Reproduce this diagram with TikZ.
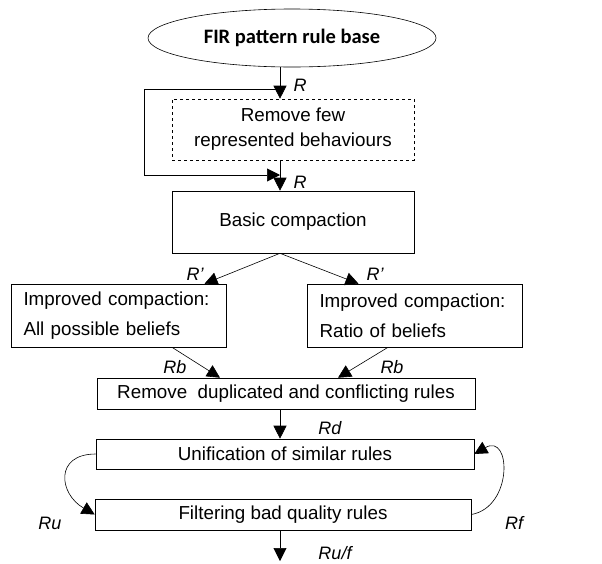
\documentclass[tikz,border=0pt]{standalone}
\usepackage{fontspec}
\setmainfont{Liberation Sans}
\newfontfamily\titlefont{Carlito}
\usetikzlibrary{arrows.meta,shapes.geometric}

\begin{document}
\begin{tikzpicture}[x=1pt, y=-1pt, >={Triangle[length=13pt,width=13pt]}, line width=0.6pt,
  every node/.style={font=\fontsize{18.8}{22}\selectfont},
  stepbox/.style={draw, rectangle, inner sep=0pt, align=center},
  twoline/.style={stepbox, align=left, text width=190pt, font=\fontsize{18.8}{30}\selectfont},
  lbl/.style={font=\fontsize{18}{20}\selectfont\itshape, inner sep=0pt}]
  \useasboundingbox (0,0) rectangle (602,563);
  \coordinate (axis) at (280,0);

  % boxes
  \node[draw, ellipse, inner sep=0pt, minimum width=288pt, minimum height=58pt,
        font=\titlefont\bfseries\fontsize{20.5}{24}\selectfont] (rulebase) at (292,38) {FIR pattern rule base};
  \node[stepbox, dashed, minimum width=242pt, minimum height=61pt, font=\fontsize{18.8}{25}\selectfont]
        (fewbeh) at (293,129.5) {Remove few\\represented behaviours};
  \node[stepbox, minimum width=242pt, minimum height=62pt] (basic) at (293,222) {Basic compaction};
  \node[twoline, minimum width=215pt, minimum height=63pt] (allbel) at (118.5,315.5)
        {Improved compaction:\\All possible beliefs};
  \node[twoline, minimum width=215pt, minimum height=63pt] (ratiobel) at (414.5,315.5)
        {Improved compaction:\\Ratio of beliefs};
  \node[stepbox, minimum width=378pt, minimum height=31pt] (dupl) at (286,393.5)
        {Remove\ \ duplicated and conflicting rules};
  \node[stepbox, minimum width=378pt, minimum height=30pt] (unif) at (285,454) {Unification of similar rules};
  \node[stepbox, minimum width=376pt, minimum height=31pt] (filt) at (283,514.5) {Filtering bad quality rules};

  % connectors
  \coordinate (split) at (280,89);
  \coordinate (merge) at (280,175);
  \coordinate (out) at (280,561);
  \draw[->] (rulebase.south -| axis) -- (fewbeh.north -| axis);
  \draw[->] (split) -- ++(-136,0) |- (merge);
  \draw[->] (fewbeh.south -| axis) -- (basic.north -| axis);
  \draw[->] (basic.south -| axis) -- ([xshift=86pt]allbel.north);
  \draw[->] (basic.south -| axis) -- ([xshift=-56pt]ratiobel.north);
  \draw[->] ([xshift=53.5pt]allbel.south) -- ([xshift=-66pt]dupl.north);
  \draw[->] ([xshift=-26.5pt]ratiobel.south) -- ([xshift=52pt]dupl.north);
  \draw[->] (dupl.south -| axis) -- (unif.north -| axis);
  \draw[->] (unif.west) to[out=180, in=150, looseness=1.75] (filt.west);
  \draw[->] (filt.east) to[out=10, in=30, looseness=1.8] (unif.east);
  \draw[->] (filt.south -| axis) -- (out);

  % labels
  \node[lbl] (r1) at (300,85) {R};
  \node[lbl] (r2) at (300,182) {R};
  \node[lbl] (rp1) at (195,274) {R{\char"27}};
  \node[lbl] (rp2) at (375,274) {R{\char"27}};
  \node[lbl] (rb1) at (175,367) {Rb};
  \node[lbl] (rb2) at (392,367) {Rb};
  \node[lbl] (rd) at (330,428) {Rd};
  \node[lbl] (ru) at (50,523) {Ru};
  \node[lbl] (rf) at (514,523) {Rf};
  \node[lbl] (ruf) at (335,553) {Ru/f};
\end{tikzpicture}
\end{document}
